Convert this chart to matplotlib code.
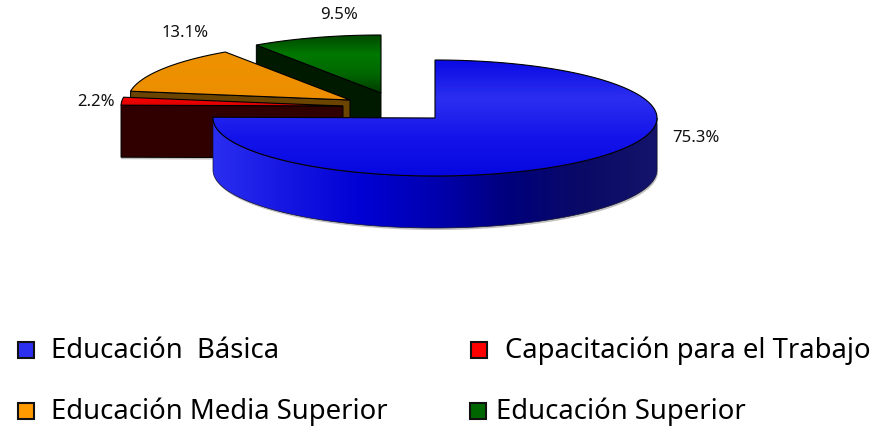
import numpy as np
import matplotlib
matplotlib.use('Agg')
import matplotlib.pyplot as plt
from matplotlib.colors import LinearSegmentedColormap
from matplotlib.patches import Polygon, Rectangle

# Shares, in drawing order clockwise from 12 o'clock
categories = ['Educación  Básica', 'Capacitación para el Trabajo',
              'Educación Media Superior', 'Educación Superior']
shares = [75.3, 2.2, 13.1, 9.5]
share_labels = ['75.3%', '2.2%', '13.1%', '9.5%']

plt.rcParams['font.family'] = ['Noto Sans', 'DejaVu Sans']

RX, RY, DEPTH = 222, 58, 52
centers = [(435, 118), (343, 106), (350, 100), (381, 93)]
top_colors = [['#0a0ae4', '#2c2ff0', '#1414ea', '#0606e0'],
              ['#ff0000', '#d80000'],
              ['#ef9200', '#ec8e00'],
              ['#004800', '#007800', '#006800', '#003c00']]
face_colors = ['#0000b0', '#300000', '#6b4400', '#001a00']
swatch_colors = ['#2c2ff0', '#ff0000', '#ff9a00', '#006600']
label_pos = [(696, 138), (96, 102), (185, 33), (339, 15)]
swatch_pos = [(18, 342), (471, 342), (18, 403), (470, 403)]
text_pos = [(51, 351), (505, 351), (51, 412), (496, 412)]

fig = plt.figure(figsize=(8.95, 4.28), dpi=100)
ax = fig.add_axes([0, 0, 1, 1])


def rim(cx, cy, a0, a1, drop=0):
    ang = np.radians(np.linspace(a0, a1, max(int(abs(a1 - a0)), 2) + 1))
    return np.column_stack([cx + RX * np.sin(ang), cy - RY * np.cos(ang) + drop])


def fill_gradient(poly, colors, horizontal, z):
    cmap = LinearSegmentedColormap.from_list('g', colors)
    x0, y0 = poly.min(axis=0)
    x1, y1 = poly.max(axis=0)
    grad = np.linspace(0, 1, 256)
    grad = grad.reshape(1, -1) if horizontal else grad.reshape(-1, 1)
    im = ax.imshow(grad, cmap=cmap, extent=(x0, x1, y1, y0), aspect='auto', zorder=z,
                   interpolation='bilinear')
    im.set_clip_path(Polygon(poly, transform=ax.transData))


# Back wedges first, the big blue one last
edges = np.cumsum([0] + shares) * 360 / sum(shares)
order = [3, 2, 1, 0]
for n, i in enumerate(order):
    z = 2 + n * 3
    cx, cy = centers[i]
    a0, a1 = edges[i], edges[i + 1]

    if i == 0:
        # Outer wall, only the front half of the ellipse shows
        top = rim(cx, cy, 90, 270)
        wall = np.vstack([top, (top + [0, DEPTH])[::-1]])
        ax.add_patch(Polygon(wall + [1, 2], closed=True, fc='#c0c0c0', ec='none', zorder=z - 1))
        fill_gradient(wall, ['#2a2ef0', '#1616e2', '#0000d4', '#0000b0', '#00007c',
                             '#0a0a66', '#14146c'], True, z)
        ax.add_patch(Polygon(wall, closed=True, fc='none', ec='#101030', lw=0.5, zorder=z + 0.1))
    else:
        # Cut face of the slice, seen from the front
        outer = rim(cx, cy, a0, a0)[0]
        face = np.array([[cx, cy], outer, outer + [0, DEPTH], [cx, cy + DEPTH]])
        ax.add_patch(Polygon(face + [0, 2], closed=True, fc='#c0c0c0', ec='none', zorder=z - 0.5))
        ax.add_patch(Polygon(face, closed=True, fc=face_colors[i], ec='black', lw=0.7, zorder=z))

    slice_top = np.vstack([[cx, cy], rim(cx, cy, a0, a1)])
    fill_gradient(slice_top, top_colors[i], False, z + 0.5)
    ax.add_patch(Polygon(slice_top, closed=True, fc='none', ec='black', lw=0.8, zorder=z + 0.6))

for (x, y), txt in zip(label_pos, share_labels):
    ax.text(x, y, txt, ha='center', va='center', fontsize=12, color='#111111', zorder=30)

for (x, y), (tx, ty), col, name in zip(swatch_pos, text_pos, swatch_colors, categories):
    ax.add_patch(Rectangle((x, y), 16, 16, fc=col, ec='#111111', lw=1.5, zorder=30))
    ax.text(tx, ty, name, ha='left', va='center', fontsize=19.8, color='black', zorder=30)

ax.set_xlim(0, 895)
ax.set_ylim(428, 0)
ax.axis('off')
fig.savefig('out.png', dpi=100, facecolor='white')
